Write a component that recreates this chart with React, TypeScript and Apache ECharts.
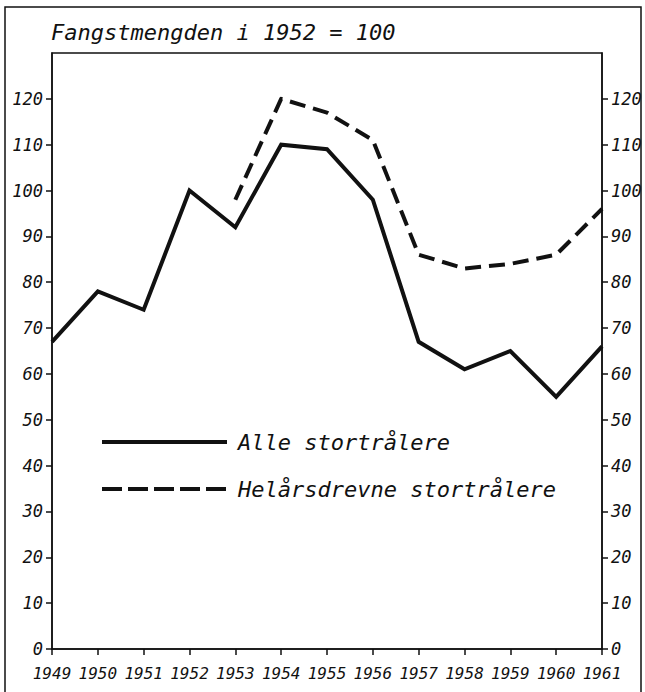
import React, { useEffect, useRef } from 'react';
import * as echarts from 'echarts';

const years = ['1949', '1950', '1951', '1952', '1953', '1954', '1955', '1956', '1957', '1958', '1959', '1960', '1961'];
const alleStortralere = [67, 78, 74, 100, 92, 110, 109, 98, 67, 61, 65, 55, 66];
const helarsdrevneStortralere = [null, null, null, null, 98, 120, 117, 111, 86, 83, 84, 86, 96];
const yTicks = [0, 10, 20, 30, 40, 50, 60, 70, 80, 90, 100, 110, 120];
const titleText = 'Fangstmengden i 1952 = 100';
const seriesNames = ['Alle stortrålere', 'Helårsdrevne stortrålere'];

const FONT = '"DejaVu Sans Mono", "Liberation Mono", monospace';
const INK = '#111';

export default function App() {
  const ref = useRef<HTMLDivElement>(null);
  useEffect(() => {
    const chart = echarts.init(ref.current as HTMLDivElement, null, { renderer: 'svg' });
    const labelBase = { color: INK, fontFamily: FONT, fontStyle: 'italic', fontSize: 16 };
    const yAxisFor = (position: string) => ({
      type: 'value',
      position,
      min: 0,
      max: 130,
      interval: 10,
      axisLine: { show: true, lineStyle: { color: INK, width: 1.5 } },
      axisTick: { show: true, inside: false, length: 6, lineStyle: { color: INK, width: 1.5 }, customValues: yTicks },
      axisLabel: {
        ...labelBase,
        fontSize: 17,
        margin: 9,
        customValues: yTicks,
        formatter: (v: number) => (yTicks.includes(v) ? String(v) : ''),
      },
      splitLine: { show: false },
    });
    chart.setOption({
      animation: false,
      backgroundColor: '#fff',
      title: {
        text: titleText,
        left: 46,
        top: 16,
        textStyle: { color: INK, fontFamily: FONT, fontStyle: 'italic', fontWeight: 'normal', fontSize: 22 },
      },
      grid: { left: 52, right: 43, top: 53, bottom: 43, show: true, borderColor: INK, borderWidth: 1.5, containLabel: false },
      xAxis: {
        type: 'category',
        data: years,
        boundaryGap: false,
        axisLine: { show: true, lineStyle: { color: INK, width: 1.5 } },
        axisTick: { show: true, inside: false, length: 6, alignWithLabel: true, lineStyle: { color: INK, width: 1.5 } },
        axisLabel: { ...labelBase, margin: 16, interval: 0 },
        splitLine: { show: false },
      },
      yAxis: [yAxisFor('left'), yAxisFor('right')],
      legend: {
        orient: 'vertical',
        left: 100,
        top: 430,
        padding: 0,
        itemWidth: 125,
        itemHeight: 24,
        itemGap: 23,
        textStyle: { color: INK, fontFamily: FONT, fontStyle: 'italic', fontSize: 22, lineHeight: 24, padding: [0, 0, 0, 6] },
        data: [
          { name: seriesNames[0], itemStyle: { opacity: 0 }, lineStyle: { width: 4, type: 'solid', color: INK } },
          { name: seriesNames[1], itemStyle: { opacity: 0 }, lineStyle: { width: 4, type: [20, 6], color: INK } },
        ],
      },
      series: [
        {
          name: seriesNames[0],
          type: 'line',
          data: alleStortralere,
          symbol: 'none',
          yAxisIndex: 0,
          lineStyle: { color: INK, width: 4, type: 'solid', join: 'miter' },
          itemStyle: { color: INK },
        },
        {
          name: seriesNames[1],
          type: 'line',
          data: helarsdrevneStortralere,
          symbol: 'none',
          yAxisIndex: 0,
          connectNulls: false,
          lineStyle: { color: INK, width: 4, type: [16, 8], join: 'round' },
          itemStyle: { color: INK },
        },
      ],
      graphic: [
        {
          type: 'rect',
          shape: { x: 5, y: 7, width: 636, height: 690 },
          style: { fill: 'none', stroke: INK, lineWidth: 1.5 },
          silent: true,
        },
      ],
    });
    return () => chart.dispose();
  }, []);
  return (
    <div
      ref={ref}
      style={{ position: 'absolute', left: 0, top: 0, width: 645, height: 692, background: '#fff' }}
    />
  );
}
